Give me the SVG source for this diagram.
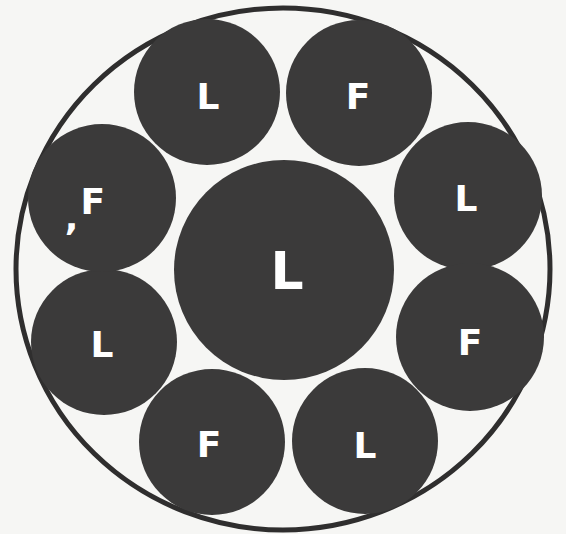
<svg xmlns="http://www.w3.org/2000/svg" width="566" height="534" viewBox="0 0 566 534">
<style>
.c{fill:#3b3a3a;}
.t{fill:#ffffff;font-family:"DejaVu Sans","Liberation Sans",sans-serif;font-weight:bold;font-size:36px;text-anchor:middle;}
</style>
<rect width="566" height="534" fill="#f6f6f4"/>
<g id="outer"><ellipse cx="283" cy="269" rx="267" ry="261" fill="none" stroke="#2f2e2e" stroke-width="5"/></g>
<g id="connectors"></g>
<g id="center"><circle class="c" cx="284" cy="270" r="110"/><text class="t" x="287" y="289" style="font-size:52px">L</text></g>
<g id="n1"><circle class="c" cx="207" cy="92" r="73"/><text class="t" x="208" y="109">L</text></g>
<g id="n2"><circle class="c" cx="359" cy="93" r="73"/><text class="t" x="358" y="109">F</text></g>
<g id="n3"><circle class="c" cx="468" cy="196" r="74"/><text class="t" x="466" y="211">L</text></g>
<g id="n4"><circle class="c" cx="470" cy="337" r="74"/><text class="t" x="470" y="355">F</text></g>
<g id="n5"><circle class="c" cx="365" cy="441" r="73"/><text class="t" x="365" y="458">L</text></g>
<g id="n6"><circle class="c" cx="212" cy="442" r="73"/><text class="t" x="209" y="457">F</text></g>
<g id="n7"><circle class="c" cx="104" cy="342" r="73"/><text class="t" x="102" y="357">L</text></g>
<g id="n8"><circle class="c" cx="102" cy="198" r="74"/><text class="t" x="93" y="214"><tspan dx="-8" dy="16">,</tspan><tspan dx="2" dy="-16">F</tspan></text></g>
</svg>
